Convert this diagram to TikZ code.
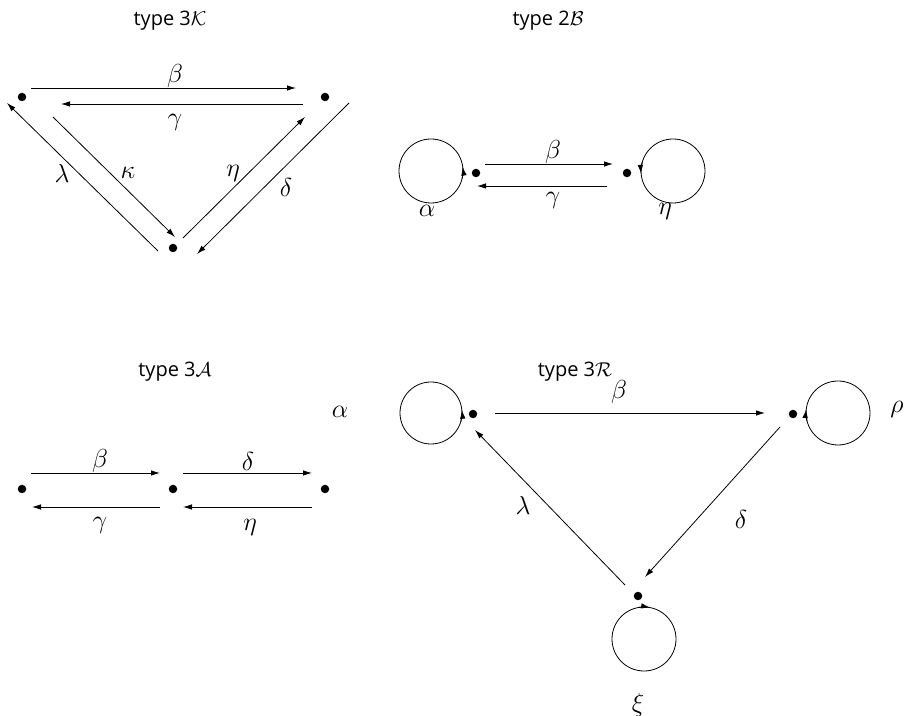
\RequirePackage{fix-cm}
\documentclass[tikz,border=0pt]{standalone}
\usepackage{fontspec}
\setmainfont{Open Sans}
\usetikzlibrary{arrows.meta,calc}
\tikzset{
  dot/.style={circle, fill, inner sep=0pt, minimum size=8.5pt},
  arr/.style={line width=0.8pt, -{Latex[length=9pt,width=5.5pt]}},
  loopc/.style={line width=0.8pt},
  lab/.style={font=\fontsize{26}{30}\selectfont, inner sep=0pt},
  ttl/.style={font=\fontsize{20}{24}\selectfont, inner sep=0pt},
}
\begin{document}
\begin{tikzpicture}[x=1pt,y=1pt]
\useasboundingbox (0,0) rectangle (923,715);
% ---------- type 3K ----------
\node[ttl] (tK) at (170,694) {type 3$\mathcal{K}$};
\node[dot] (K1) at (22,618) {};
\node[dot] (K2) at (325,618) {};
\node[dot] (K3) at (173,467) {};
\draw[arr] ($(K1)+(9,9)$) -- ($(K2)+(-29,9)$);
\draw[arr] ($(K2)+(-22,-7)$) -- ($(K1)+(39,-7)$);
\draw[arr] ($(K3)+(-15,-3)$) -- ($(K1)+(-15,-6)$);
\draw[arr] ($(K1)+(31,-20)$) -- ($(K3)+(2,11)$);
\draw[arr] ($(K3)+(10,10)$) -- ($(K2)+(-20,-20)$);
\draw[arr] ($(K2)+(24,-6)$) -- ($(K3)+(24,-6)$);
\node[lab] (Kbeta) at (175,639) {$\beta$};
\node[lab] (Kgamma) at (175,593) {$\gamma$};
\node[lab] (Klambda) at (62,542) {$\lambda$};
\node[lab] (Kkappa) at (128,542) {$\kappa$};
\node[lab] (Keta) at (233,542) {$\eta$};
\node[lab] (Kdelta) at (286,528) {$\delta$};
% ---------- type 2B ----------
\node[ttl] (tB) at (548,694) {type 2$\mathcal{B}$};
\node[dot] (B1) at (476,542) {};
\node[dot] (B2) at (627,542) {};
\draw[arr] ($(B1)+(9,9)$) -- ($(B2)+(-14,9)$);
\draw[arr] ($(B2)+(-20,-13)$) -- ($(B1)+(1,-13)$);
\coordinate (cBa) at ($(B1)+(-45,2)$);
\coordinate (cBe) at ($(B2)+(46,2)$);
\draw[loopc] (cBa) circle[radius=32];
\draw[arr] ($(cBa)+(-14:32)$) arc[start angle=-14, end angle=8, radius=32];
\draw[loopc] (cBe) circle[radius=32];
\draw[arr] ($(cBe)+(164:32)$) arc[start angle=164, end angle=185, radius=32];
\node[lab] (Bbeta) at (553,563) {$\beta$};
\node[lab] (Bgamma) at (553,515) {$\gamma$};
\node[lab] (Balpha) at (427,504) {$\alpha$};
\node[lab] (Beta) at (665,504) {$\eta$};
% ---------- type 3A ----------
\node[ttl] (tA) at (175,343) {type 3$\mathcal{A}$};
\node[dot] (A1) at (22,226) {};
\node[dot] (A2) at (173,226) {};
\node[dot] (A3) at (325,226) {};
\draw[arr] ($(A1)+(9,16)$) -- ($(A2)+(-13,16)$);
\draw[arr] ($(A2)+(10,16)$) -- ($(A3)+(-13,16)$);
\draw[arr] ($(A2)+(-13,-18)$) -- ($(A1)+(10,-18)$);
\draw[arr] ($(A3)+(-13,-18)$) -- ($(A2)+(10,-18)$);
\node[lab] (Abeta) at (100,254) {$\beta$};
\node[lab] (Adelta) at (248,254) {$\delta$};
\node[lab] (Agamma) at (100,190) {$\gamma$};
\node[lab] (Aeta) at (250,188) {$\eta$};
% ---------- type 3R ----------
\node[ttl] (tR) at (575,343) {type 3$\mathcal{R}$};
\node[dot] (R1) at (473,301) {};
\node[dot] (R2) at (793,301) {};
\node[dot] (R3) at (638,119) {};
\draw[arr] ($(R1)+(22,1)$) -- ($(R2)+(-28,1)$);
\draw[arr] ($(R3)+(-13,11)$) -- ($(R1)+(2,-16)$);
\draw[arr] ($(R2)+(-13,-13)$) -- ($(R3)+(7,19)$);
\coordinate (cRa) at ($(R1)+(-42,1)$);
\coordinate (cRr) at ($(R2)+(45,1)$);
\coordinate (cRx) at ($(R3)+(6,-43)$);
\draw[loopc] (cRa) circle[radius=31];
\draw[arr] ($(cRa)+(-16:31)$) arc[start angle=-16, end angle=6, radius=31];
\draw[loopc] (cRr) circle[radius=32];
\draw[arr] ($(cRr)+(195:32)$) arc[start angle=195, end angle=173, radius=32];
\draw[loopc] (cRx) circle[radius=32];
\draw[arr] ($(cRx)+(101:32)$) arc[start angle=101, end angle=79, radius=32];
\node[lab] (Rbeta) at (619,323) {$\beta$};
\node[lab] (Rlambda) at (523,210) {$\lambda$};
\node[lab] (Rdelta) at (741,196) {$\delta$};
\node[lab] (Ralpha) at (340,303) {$\alpha$};
\node[lab] (Rrho) at (897,306) {$\rho$};
\node[lab] (Rxi) at (638,10) {$\xi$};
\end{tikzpicture}
\end{document}
